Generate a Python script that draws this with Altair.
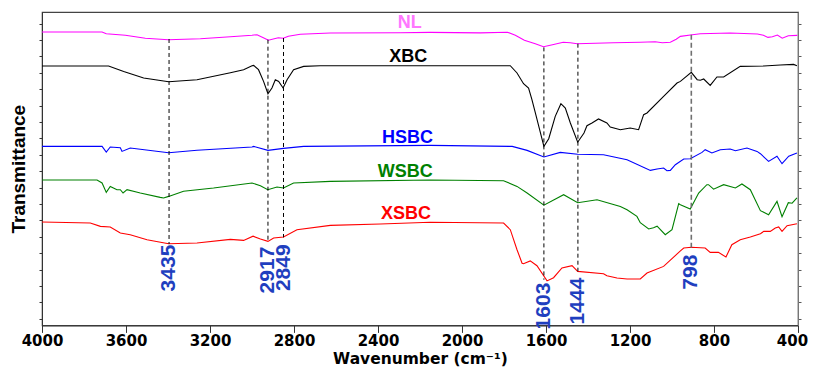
import altair as alt
import pandas as pd

# ---------------- data ----------------
series_names = ["NL", "XBC", "HSBC", "WSBC", "XSBC"]
series_colors = ["#ff00ff", "#000000", "#0000ff", "#008000", "#ff0000"]

NL_wn = [4000, 3714, 3694, 3603, 3508, 3399, 3246, 3103, 3000, 2976, 2946, 2922, 2894, 2875, 2851, 2827,
         2770, 2627, 2294, 2151, 1913, 1784, 1746, 1703, 1651, 1612, 1569, 1518, 1484, 1452, 1365, 1278,
         1151, 1080, 1046, 1008, 980, 960, 903, 865, 723, 593, 565, 543, 522, 498, 475, 446, 403]
NL_t = [29.37, 29.37, 29.2, 29.05, 28.75, 28.6, 28.7, 28.9, 29.05, 29.1, 28.8, 28.55, 28.7, 28.8, 28.75, 28.95,
        29.15, 29.27, 29.3, 29.33, 29.28, 29.35, 29.05, 28.55, 28.2, 27.9, 28.1, 28.35, 28.3, 28.2, 28.25, 28.3,
        28.35, 28.4, 28.3, 28.35, 28.65, 28.93, 29.1, 29.2, 29.27, 29.17, 29.05, 28.83, 28.9, 29.07, 28.75, 29.0, 29.03]

XBC_wn = [4000, 3683, 3611, 3516, 3397, 3262, 3103, 3040, 3000, 2992, 2969, 2945, 2924, 2905, 2889, 2873,
          2852, 2833, 2802, 2754, 2675, 1770, 1738, 1707, 1683, 1667, 1651, 1610, 1587, 1556, 1529, 1508,
          1484, 1449, 1419, 1405, 1381, 1350, 1310, 1294, 1246, 1199, 1159, 1135, 1119, 1040, 976, 960,
          908, 880, 865, 849, 818, 786, 754, 675, 563, 484, 421, 405]
XBC_t = [25.97, 25.97, 25.43, 24.77, 24.4, 24.6, 25.3, 25.6, 26.0, 26.03, 25.6, 24.43, 23.2, 23.77, 24.6, 24.43,
         23.77, 24.6, 25.6, 25.93, 26.0, 26.0, 25.27, 24.2, 23.77, 22.6, 21.3, 17.93, 18.7, 20.93, 22.2, 21.77,
         20.27, 18.35, 19.27, 20.0, 20.27, 20.67, 20.27, 19.87, 19.6, 19.77, 19.6, 21.1, 21.27, 22.93, 24.27, 24.43,
         25.33, 24.6, 24.55, 24.67, 24.03, 24.87, 24.87, 25.93, 25.97, 26.07, 26.13, 26.0]

HSBC_wn = [4000, 3714, 3694, 3675, 3627, 3619, 3580, 3397, 3262, 3000, 2992, 2924, 2850, 2754, 2151, 1761,
           1690, 1610, 1532, 1449, 1326, 1214, 1103, 1071, 1040, 1024, 1008, 984, 944, 913, 857, 842,
           810, 770, 723, 698, 643, 595, 579, 540, 500, 476, 444, 405]
HSBC_t = [17.93, 17.93, 17.37, 17.87, 17.8, 17.43, 17.77, 17.3, 17.55, 17.87, 17.93, 17.53, 17.73, 17.93, 18.03, 17.93,
          17.53, 16.87, 17.33, 17.15, 17.1, 16.6, 15.53, 15.67, 15.77, 15.5, 15.53, 16.1, 16.67, 16.7, 17.33, 17.6,
          17.27, 17.6, 17.67, 17.5, 17.77, 17.43, 17.2, 16.43, 16.95, 16.2, 16.95, 17.27]

WSBC_wn = [4000, 3738, 3714, 3694, 3675, 3643, 3627, 3614, 3595, 3532, 3437, 3421, 3397, 3326, 3183, 3000,
           2960, 2925, 2881, 2850, 2802, 2627, 2151, 1802, 1738, 1690, 1610, 1516, 1449, 1357, 1246, 1214,
           1167, 1151, 1111, 1088, 1071, 1032, 1000, 968, 960, 913, 873, 834, 826, 802, 754, 698,
           667, 627, 579, 540, 500, 476, 446, 428, 405]
WSBC_t = [14.57, 14.57, 14.27, 13.33, 13.93, 13.6, 13.6, 13.27, 13.6, 13.27, 12.83, 12.77, 12.93, 13.45, 13.77, 14.27,
          14.0, 13.6, 13.87, 13.77, 14.27, 14.43, 14.57, 14.5, 13.93, 13.27, 12.05, 13.1, 12.3, 12.6, 11.93, 11.6,
          10.93, 10.3, 9.67, 9.8, 9.95, 9.1, 9.6, 12.2, 12.1, 11.67, 13.27, 14.1, 14.1, 13.65, 14.1, 13.77,
          14.17, 13.6, 11.5, 11.1, 12.43, 10.9, 12.3, 12.25, 12.77]

XSBC_wn = [4000, 3770, 3722, 3675, 3627, 3580, 3500, 3397, 3262, 3103, 3040, 2995, 2960, 2924, 2897, 2850,
           2786, 2627, 2389, 2151, 1802, 1770, 1738, 1714, 1707, 1675, 1643, 1595, 1564, 1524, 1476, 1449,
           1326, 1310, 1262, 1214, 1151, 1119, 1040, 960, 944, 908, 842, 818, 779, 743, 715, 675,
           627, 579, 563, 532, 508, 492, 476, 452, 405]
XSBC_t = [10.37, 10.27, 9.93, 9.87, 9.27, 9.1, 8.6, 8.2, 8.27, 8.63, 8.53, 8.95, 8.67, 8.43, 8.77, 8.87,
          9.6, 10.03, 10.17, 10.35, 10.27, 9.6, 7.6, 6.25, 6.2, 6.48, 6.0, 4.48, 4.8, 5.77, 6.0, 5.43,
          5.2, 5.0, 4.77, 4.67, 4.67, 5.27, 5.93, 7.48, 7.77, 7.85, 7.77, 7.33, 7.33, 6.87, 8.1, 8.6,
          8.87, 9.2, 9.43, 9.43, 9.77, 9.87, 9.43, 10.0, 10.2]

# dashed marker lines (drawn position) and their printed labels
peak_text = ["3435", "2917", "2849", "1603", "1444", "798"]
peak_wn = [3395, 2924, 2850, 1610, 1448, 908]
peak_top = [28.67, 28.6, 28.77, 27.83, 28.2, 29.1]
peak_bottom = [8.17, 8.43, 8.83, 4.6, 5.43, 7.77]
peak_text_top = [8.1, 7.9, 8.13, 4.3, 4.8, 7.1]
peak_line_color = ["#000000", "#000000", "#000000", "#000000", "#000000", "#707070"]

# series name labels
label_names = ["NL", "XBC", "HSBC", "WSBC", "XSBC"]
label_wn = [2249, 2256, 2260, 2270, 2267]
label_t = [30.23, 26.85, 18.77, 15.4, 11.15]
label_colors = ["#ff77ff", "#000000", "#0000ff", "#008000", "#ff0000"]

x_ticks = [4000, 3600, 3200, 2800, 2400, 2000, 1600, 1200, 800, 400]
y_tick_start = 0.7
y_tick_step = 1.639
y_ticks = [round(y_tick_start + y_tick_step * k, 3) for k in range(19)]

# ---------------- build tables ----------------
rows = []
for name, wns, ts in zip(series_names,
                         [NL_wn, XBC_wn, HSBC_wn, WSBC_wn, XSBC_wn],
                         [NL_t, XBC_t, HSBC_t, WSBC_t, XSBC_t]):
    for w, t in zip(wns, ts):
        rows.append({"series": name, "wn": w, "t": t})
spectra = pd.DataFrame(rows)

peaks = pd.DataFrame({"label": peak_text, "wn": peak_wn, "top": peak_top,
                      "bottom": peak_bottom, "ttop": peak_text_top, "col": peak_line_color})
labels = pd.DataFrame({"name": label_names, "wn": label_wn, "t": label_t, "col": label_colors})

x_scale = alt.Scale(domain=[400, 4000], reverse=True, nice=False, zero=False)
y_scale = alt.Scale(domain=[0.03, 31.37], nice=False, zero=False)

x_axis = alt.Axis(values=x_ticks, format="d", title="Wavenumber  (cm⁻¹)", grid=False,
                  labelFont="DejaVu Sans", labelFontWeight="bold", labelFontSize=15, labelColor="#000000",
                  titleFont="DejaVu Sans", titleFontWeight="bold", titleFontSize=15.5, titleColor="#000000",
                  titleY=38.5, titleBaseline="alphabetic",
                  tickSize=7, labelPadding=1, domainColor="#333333", tickColor="#333333",
                  labelFlush=False,
                  labelOffset={"condition": {"test": "datum.value == 400", "value": -6}, "value": 0})


def xenc(field="wn"):
    return alt.X(f"{field}:Q", scale=x_scale, axis=x_axis)


lines = alt.Chart(spectra).mark_line(strokeWidth=1.1).encode(
    x=xenc(),
    y=alt.Y("t:Q", scale=y_scale,
            axis=alt.Axis(values=y_ticks, labels=False, tickSize=3, grid=False,
                          title="Transmittance", titleFont="Liberation Sans", titleFontWeight="bold",
                          titleFontSize=19, titleColor="#000000", titlePadding=10,
                          domainColor="#333333", tickColor="#333333")),
    color=alt.Color("series:N", scale=alt.Scale(domain=series_names, range=series_colors), legend=None),
    detail="series:N",
)

rules_black = alt.Chart(peaks).transform_filter(alt.datum.col == "#000000").mark_rule(
    strokeDash=[4, 3], strokeWidth=1, color="#000000"
).encode(
    x=xenc(),
    y=alt.Y("top:Q", scale=y_scale,
            axis=alt.Axis(orient="right", values=y_ticks, labels=False, tickSize=3, grid=False,
                          title=None, domainColor="#777777", tickColor="#555555")),
    y2="bottom:Q",
)

rules_grey = alt.Chart(peaks).transform_filter(alt.datum.col != "#000000").mark_rule(
    strokeDash=[5, 3], strokeWidth=1.6, color="#707070"
).encode(
    x=xenc(),
    y=alt.Y("top:Q", scale=y_scale, axis=None),
    y2="bottom:Q",
)

peak_labels = alt.Chart(peaks).mark_text(
    angle=270, align="right", baseline="middle", font="Liberation Sans", fontWeight="bold",
    fontSize=21, color="#1f3fbf"
).encode(
    x=xenc(),
    y=alt.Y("ttop:Q", scale=y_scale, axis=None),
    text="label:N",
)

name_labels = alt.Chart(labels).mark_text(
    align="center", baseline="middle", font="Liberation Sans", fontWeight="bold", fontSize=18
).encode(
    x=xenc(),
    y=alt.Y("t:Q", scale=y_scale, axis=None),
    text="name:N",
    color=alt.Color("col:N", scale=None),
)

chart = alt.layer(lines, rules_black, rules_grey, peak_labels, name_labels).resolve_axis(
    y="independent"
).properties(
    width=756, height=313.4,
    autosize=alt.AutoSizeParams(type="none"),
    padding={"left": 34, "top": 4, "right": 10, "bottom": 42},
).configure_view(
    stroke="#444444", strokeWidth=1.2
)

chart.save("out.html", embed_options={"renderer": "svg", "actions": False})
